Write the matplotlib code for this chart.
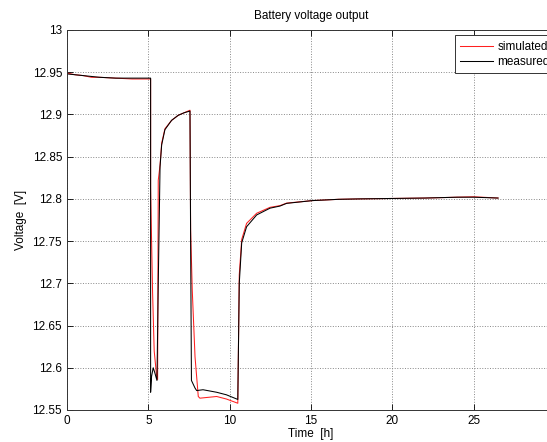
import numpy as np
import matplotlib
matplotlib.use('Agg')
import matplotlib.pyplot as plt

plt.rcParams['font.family'] = ['Liberation Sans', 'DejaVu Sans']

# measured battery voltage [h, V]
t_meas = [0, 0.5, 1.0, 1.5, 2.0, 3.0, 4.0, 5.14, 5.14, 5.2, 5.3, 5.4, 5.53, 5.61,
          5.72, 5.82, 6.02, 6.43, 6.84, 7.2, 7.56, 7.6, 7.65, 7.87, 7.97, 8.36,
          9.2, 9.8, 10.5, 10.59, 10.74, 11.04, 11.66, 12.48, 13.09, 13.5, 15.1,
          16.7, 18.0, 20.0, 22.0, 24.0, 25.0, 26.5]
v_meas = [12.948, 12.947, 12.946, 12.945, 12.944, 12.943, 12.943, 12.943, 12.571, 12.590,
          12.600, 12.594, 12.585, 12.70, 12.838, 12.864, 12.882, 12.893, 12.899, 12.902,
          12.904, 12.75, 12.585, 12.576, 12.573, 12.574, 12.571, 12.568, 12.5625, 12.70,
          12.748, 12.767, 12.781, 12.789, 12.7915, 12.7947, 12.798, 12.7995, 12.800,
          12.8005, 12.801, 12.802, 12.802, 12.801]

# simulated battery voltage [h, V]
t_sim = [0, 0.5, 1.0, 1.5, 2.0, 3.0, 4.0, 5.14, 5.14, 5.2, 5.26, 5.36, 5.5, 5.57,
         5.61, 5.72, 5.82, 6.02, 6.43, 6.84, 7.2, 7.56, 7.6, 7.7, 7.87, 8.07, 8.17,
         9.2, 9.8, 10.5, 10.59, 10.74, 11.04, 11.66, 12.48, 13.09, 13.5, 15.1, 16.7,
         18.0, 20.0, 22.0, 24.0, 25.0, 26.5]
v_sim = [12.949, 12.947, 12.946, 12.944, 12.944, 12.943, 12.942, 12.942, 12.813, 12.75,
         12.69, 12.62, 12.592, 12.586, 12.822, 12.840, 12.866, 12.883, 12.893, 12.899,
         12.902, 12.905, 12.763, 12.692, 12.613, 12.566, 12.564, 12.566, 12.563, 12.558,
         12.71, 12.752, 12.771, 12.783, 12.790, 12.792, 12.795, 12.798, 12.7995, 12.800,
         12.8005, 12.801, 12.802, 12.8025, 12.801]

x_ticks = [0, 5, 10, 15, 20, 25]
y_ticks = [12.55, 12.6, 12.65, 12.7, 12.75, 12.8, 12.85, 12.9, 12.95, 13]
y_labels = ['12.55', '12.6', '12.65', '12.7', '12.75', '12.8', '12.85', '12.9', '12.95', '13']

fig = plt.figure(figsize=(5.47, 4.42), dpi=100)
# axes run past the right edge, as in the cropped original
ax = fig.add_axes([67/547, 32/442, 488/547, 380/442])

ax.plot(t_sim, v_sim, color='#ff2020', lw=0.75, label='simulated')
ax.plot(t_meas, v_meas, color='k', lw=0.75, label='measured')

ax.set_xlim(0, 30)
ax.set_ylim(12.55, 13)
ax.set_xticks(x_ticks)
ax.set_yticks(y_ticks)
ax.set_yticklabels(y_labels)
ax.tick_params(direction='in', labelsize=8.5, length=4, width=0.6, top=True, right=True)
ax.grid(True, linestyle=':', color='#888888', lw=0.7)
for s in ax.spines.values():
    s.set_linewidth(0.7)
    s.set_color('#333333')

ax.set_title('Battery voltage output', fontsize=8.5, pad=8)
ax.set_xlabel('Time  [h]', fontsize=8.5, labelpad=1)
ax.set_ylabel('Voltage  [V]', fontsize=8.5, labelpad=4)

# legend is clipped by the figure edge in the original
leg = ax.legend(loc='upper left', bbox_to_anchor=(0.795, 0.986), fontsize=8.5,
                fancybox=False, edgecolor='#333333', framealpha=1,
                handlelength=2.8, handletextpad=0.35, borderpad=0.45,
                labelspacing=0.3, borderaxespad=0)
leg.get_frame().set_linewidth(0.7)

plt.savefig('out.png', dpi=100)
